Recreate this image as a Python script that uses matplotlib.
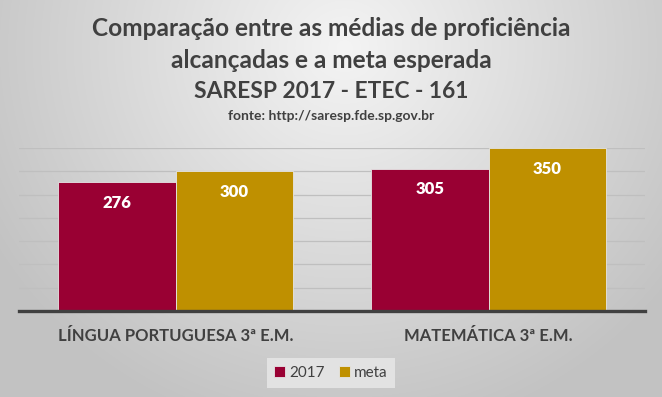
import numpy as np
import matplotlib
matplotlib.use("Agg")
import matplotlib.pyplot as plt
from matplotlib.colors import to_rgb

categories = ["LÍNGUA PORTUGUESA 3ª E.M.", "MATEMÁTICA 3ª E.M."]
series_names = ["2017", "meta"]
values_2017 = [276, 305]
values_meta = [300, 350]
colors = ["#990033", "#BF9000"]
title_lines = ["Comparação entre as médias de proficiência",
               "alcançadas e a meta esperada",
               "SARESP 2017 - ETEC - 161"]
subtitle = "fonte: http://saresp.fde.sp.gov.br"

plt.rcParams['font.family'] = ['Lato', 'DejaVu Sans']
W, H = 662, 397
fig = plt.figure(figsize=(W / 100, H / 100), dpi=100)

# background radial gradient
bg = fig.add_axes([0, 0, 1, 1], zorder=-10)
yy, xx = np.mgrid[0:H, 0:W]
cx, cy = W * 0.52, H * 0.12
r = np.sqrt(((xx - cx) / (W * 0.62)) ** 2 + ((yy - cy) / (H * 1.0)) ** 2)
r = np.clip(r, 0, 1)
c0 = np.array(to_rgb("#f4f4f4"))
c1 = np.array(to_rgb("#c2c2c2"))
img = c0[None, None, :] * (1 - r[..., None]) + c1[None, None, :] * r[..., None]
bg.imshow(img, aspect='auto', extent=[0, 1, 0, 1], origin='upper')
bg.axis('off')

ax = fig.add_axes([19 / W, (H - 311) / H, (645 - 19) / W, (311 - 148) / H])
ax.patch.set_alpha(0)
x = np.arange(len(categories))
bw = 0.375
b1 = ax.bar(x - bw / 2, values_2017, bw, color=colors[0], edgecolor="#e6e6e6", linewidth=0.6, label=series_names[0], zorder=3)
b2 = ax.bar(x + bw / 2, values_meta, bw, color=colors[1], edgecolor="#e6e6e6", linewidth=0.6, label=series_names[1], zorder=3)
ax.set_xlim(-0.5, 1.5)
ax.set_ylim(0, 350)
ax.set_yticks(np.arange(0, 351, 50))
ax.yaxis.grid(True, color="#bfbfbf", linewidth=0.9, zorder=0)
ax.set_axisbelow(True)
ax.tick_params(left=False, labelleft=False, bottom=False, labelbottom=False)
for s in ["top", "right", "left"]:
    ax.spines[s].set_visible(False)
ax.spines["bottom"].set_color("#404040")
ax.spines["bottom"].set_linewidth(2.4)
ax.spines["bottom"].set_zorder(4)

for bars in (b1, b2):
    for rect in bars:
        h = rect.get_height()
        ax.annotate(f"{h:.0f}", (rect.get_x() + rect.get_width() / 2, h),
                    xytext=(0, -9), textcoords="offset points",
                    ha="center", va="top", color="white", fontsize=12, fontweight="heavy", zorder=5)

for i, c in enumerate(categories):
    ax.text(x[i], -0.155, c, transform=ax.get_xaxis_transform(), ha="center", va="center",
            fontsize=12, fontweight="bold", color="#404040")

tc = "#404040"
fig.text(0.5, 1 - 28 / H, title_lines[0], ha="center", va="center", fontsize=17.6, fontweight="bold", color=tc)
fig.text(0.5, 1 - 60 / H, title_lines[1], ha="center", va="center", fontsize=17.6, fontweight="bold", color=tc)
fig.text(0.5, 1 - 91 / H, title_lines[2], ha="center", va="center", fontsize=16.4, fontweight="bold", color=tc)
fig.text(0.5, 1 - 116 / H, subtitle, ha="center", va="center", fontsize=10, fontweight="bold", color=tc)

leg = fig.legend(handles=[b1, b2], labels=series_names, loc="center", bbox_to_anchor=(331 / W, 1 - 373 / H),
                 ncol=2, frameon=True, fontsize=11, handlelength=0.7, handleheight=0.7,
                 handletextpad=0.3, columnspacing=0.9, borderpad=0.5, labelcolor="#404040")
leg.get_frame().set_facecolor("#e2e2e2")
leg.get_frame().set_edgecolor("none")
leg.get_frame().set_alpha(1)
leg.get_frame().set_boxstyle("square", pad=0)

fig.savefig("out.png", dpi=100)
